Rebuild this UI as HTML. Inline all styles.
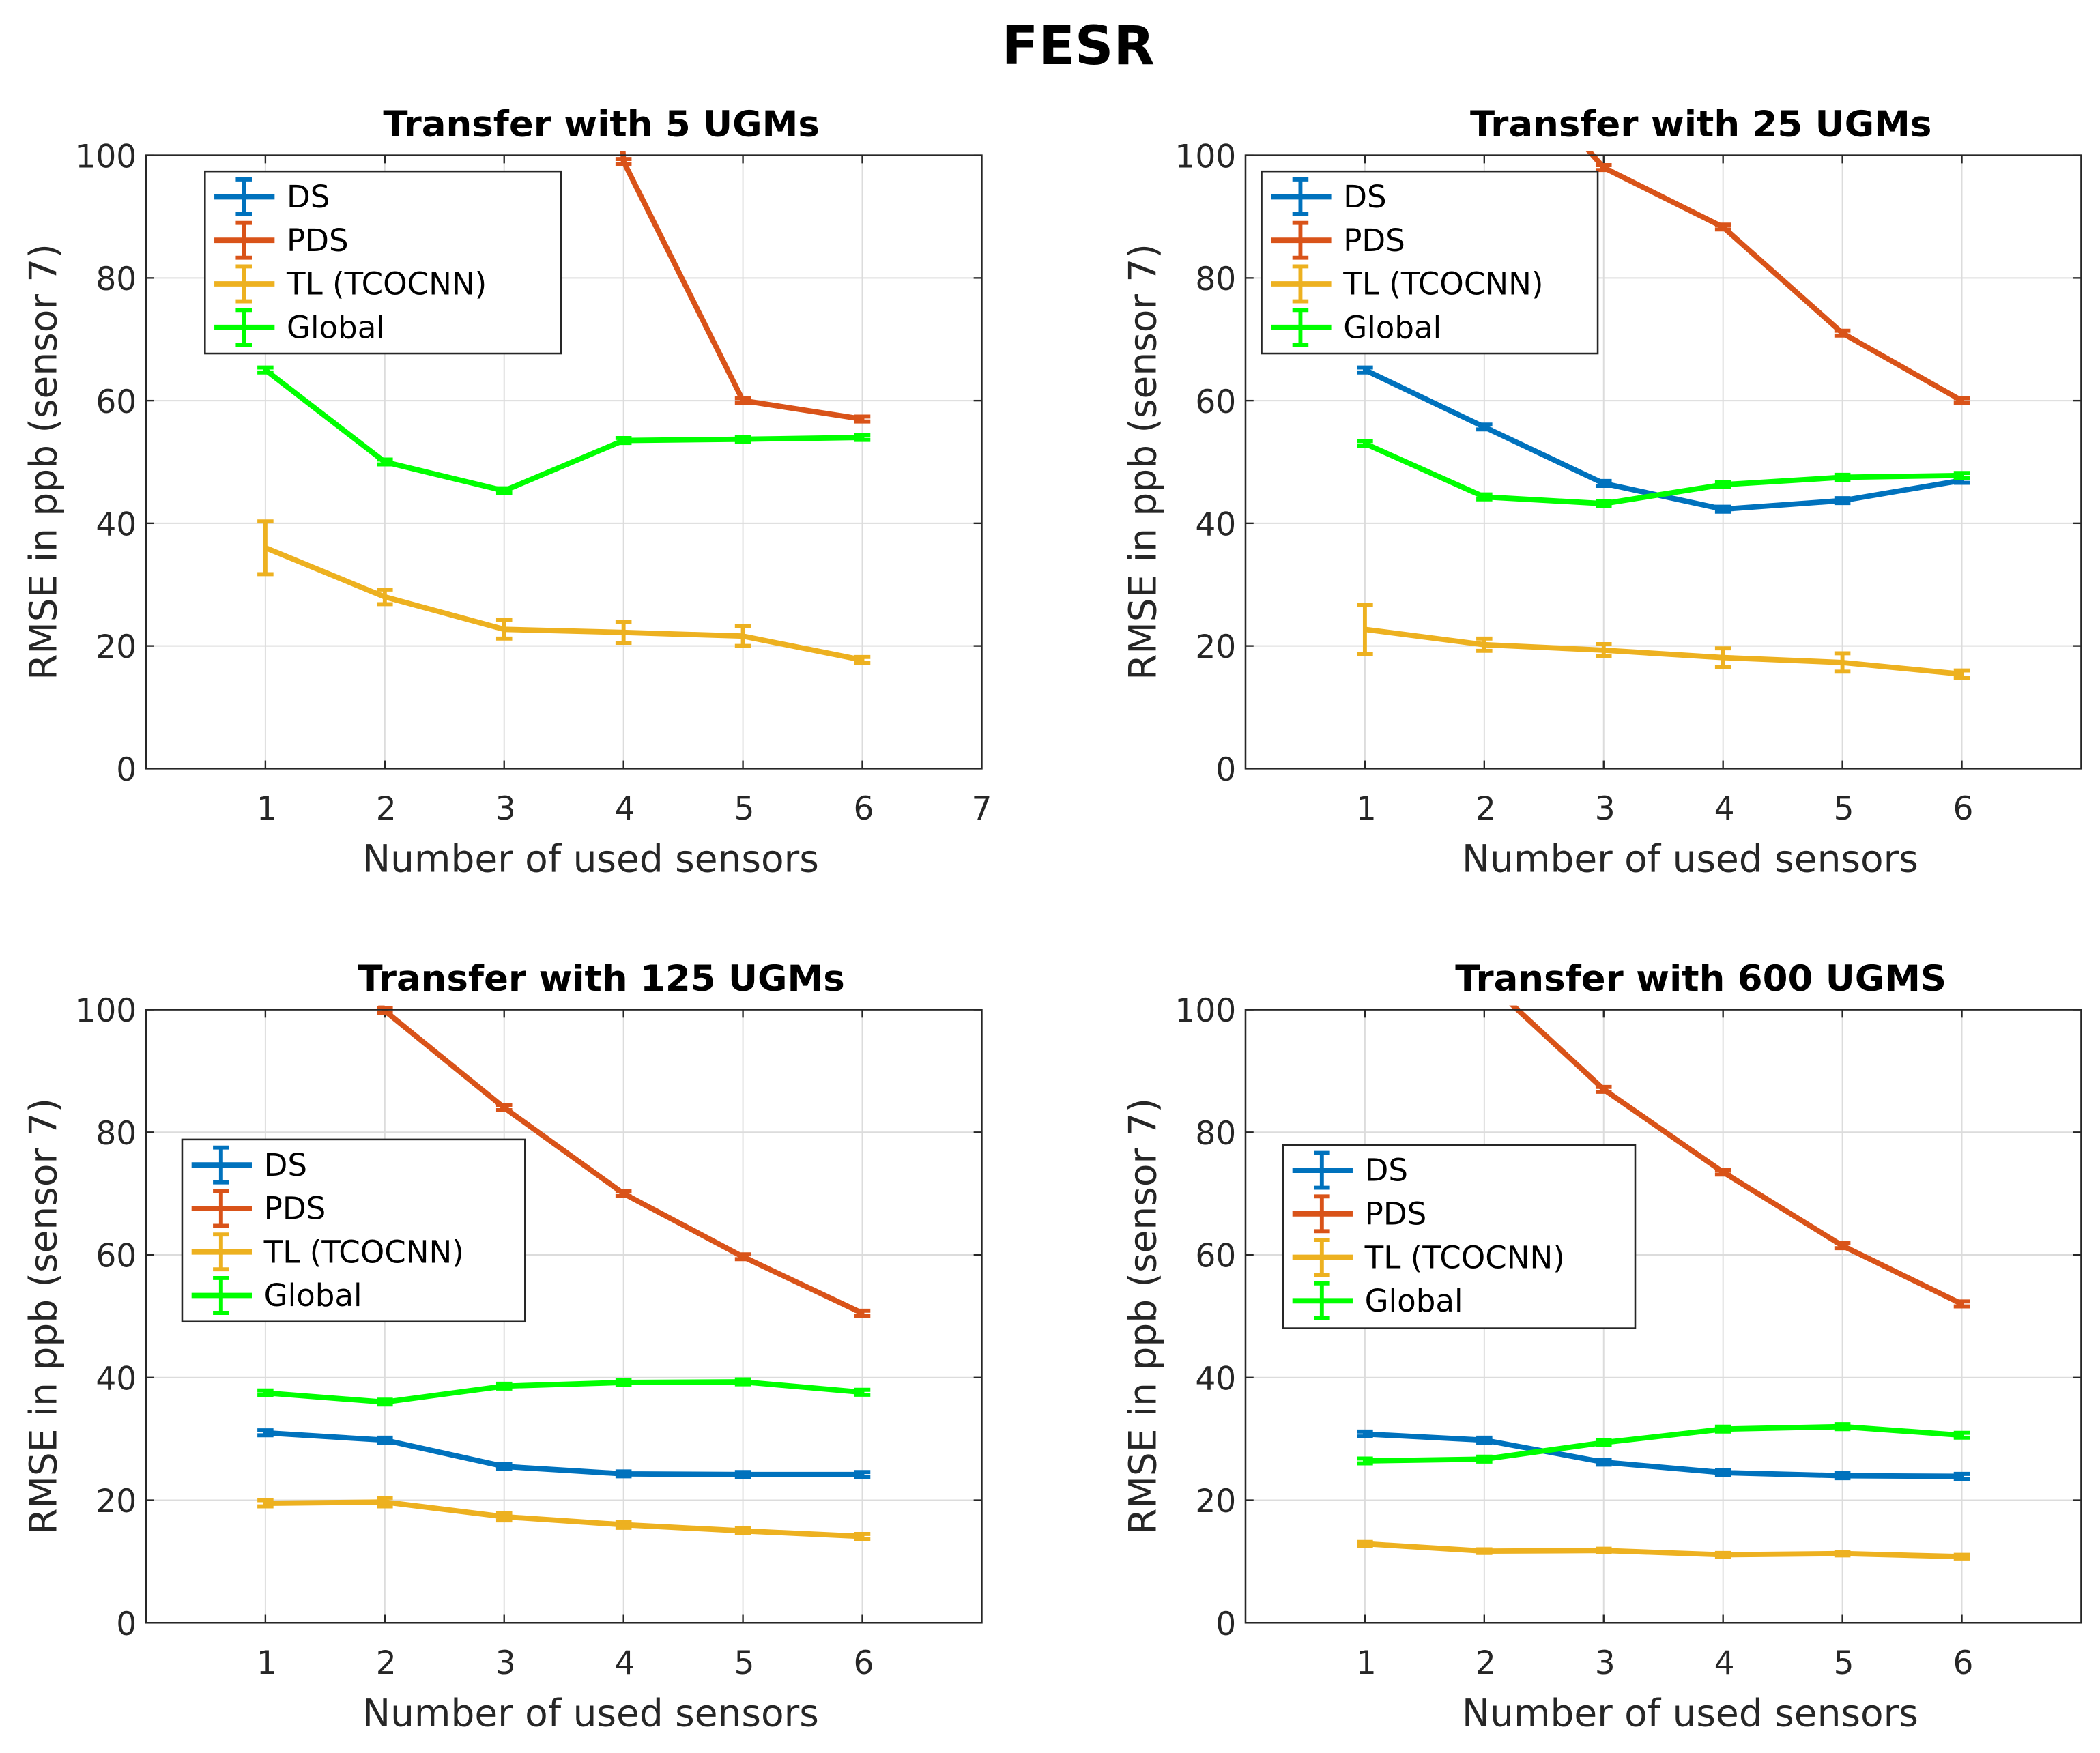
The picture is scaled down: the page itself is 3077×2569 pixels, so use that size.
<!DOCTYPE html>
<html><head><meta charset="utf-8"><style>
html,body{margin:0;padding:0;background:#fff}
svg{display:block}
text{font-family:"DejaVu Sans","Liberation Sans",sans-serif;fill:#262626}
</style></head><body>
<svg id="fig" width="3077" height="2569" viewBox="0 0 1568 1309.2" xmlns="http://www.w3.org/2000/svg">
<text x="805" y="48" text-anchor="middle" font-size="40" font-weight="bold" style="fill:#000">FESR</text>
</svg>
<script>
const xCats=[1,2,3,4,5,6];
const yTicks=[0,20,40,60,80,100];
const seriesNames=["DS","PDS","TL (TCOCNN)","Global"];
const seriesColors=["#0072BD","#D95319","#EDB120","#00FF00"];
const titles=["Transfer with 5 UGMs","Transfer with 25 UGMs","Transfer with 125 UGMs","Transfer with 600 UGMS"];
// panel values
const ds5=[null,null,null,null,null,null];
const pds5=[600,500,400,99,60,57];
const tl5=[36,28,22.7,22.2,21.6,17.7];
const tlErr5=[4.3,1.2,1.5,1.7,1.6,0.5];
const gl5=[65,50,45.3,53.5,53.7,54];
const ds25=[65,55.7,46.5,42.3,43.7,47];
const pds25=[150,120,98,88.3,71,60];
const tl25=[22.7,20.2,19.3,18.1,17.3,15.4];
const tlErr25=[4,1,1,1.5,1.5,0.6];
const gl25=[53,44.3,43.2,46.3,47.5,47.8];
const ds125=[31,29.8,25.5,24.3,24.2,24.2];
const pds125=[130,99.8,84,70,59.7,50.5];
const tl125=[19.5,19.7,17.3,16,15,14.1];
const tlErr125=[0.5,0.7,0.6,0.5,0.4,0.4];
const gl125=[37.5,36,38.6,39.2,39.3,37.6];
const ds600=[30.8,29.8,26.2,24.5,24,23.9];
const pds600=[125,105,87,73.5,61.5,52];
const tl600=[12.9,11.7,11.8,11.1,11.3,10.8];
const tlErr600=[0.3,0.3,0.3,0.3,0.3,0.3];
const gl600=[26.4,26.7,29.4,31.6,32,30.6];

const panels=[
 {L:109,T:116,ds:ds5,pds:pds5,tl:tl5,err:tlErr5,gl:gl5,show7:true,leg:[153,128,266,136]},
 {L:930,T:116,ds:ds25,pds:pds25,tl:tl25,err:tlErr25,gl:gl25,show7:false,leg:[942,128,251,136]},
 {L:109,T:754,ds:ds125,pds:pds125,tl:tl125,err:tlErr125,gl:gl125,show7:false,leg:[136,851,256,136]},
 {L:930,T:754,ds:ds600,pds:pds600,tl:tl600,err:tlErr600,gl:gl600,show7:false,leg:[958,855,263,137]}
];
const W=624,H=458;
const NS="http://www.w3.org/2000/svg";
const svg=document.getElementById('fig');
function mk(tag,attrs,parent){const e=document.createElementNS(NS,tag);for(const k in attrs)e.setAttribute(k,attrs[k]);(parent||svg).appendChild(e);return e;}
panels.forEach((p,i)=>{
 const xs=v=>p.L+v/7*W, ys=v=>p.T+H-v/100*H;
 const g=mk('g',{});
 
 
 const cp=mk('clipPath',{id:'c'+i},g);mk('rect',{x:p.L,y:p.T-3,width:W,height:H+3},cp);
 xCats.forEach(v=>{const l=mk('line',{x1:xs(v),x2:xs(v),y1:p.T,y2:p.T+H,stroke:'#dcdcdc','stroke-width':1},g);});
 yTicks.forEach(v=>{if(v>0&&v<100){const l=mk('line',{x1:p.L,x2:p.L+W,y1:ys(v),y2:ys(v),stroke:'#dcdcdc','stroke-width':1},g);}});
 xCats.forEach(v=>{mk('line',{x1:xs(v),x2:xs(v),y1:p.T+H,y2:p.T+H-6,stroke:'#262626','stroke-width':1.2},g);mk('line',{x1:xs(v),x2:xs(v),y1:p.T,y2:p.T+6,stroke:'#262626','stroke-width':1.2},g);
  const t=mk('text',{x:xs(v)+1,y:p.T+H+38,'text-anchor':'middle','font-size':24},g);t.textContent=v;});
 if(p.show7){const t=mk('text',{x:xs(7),y:p.T+H+38,'text-anchor':'middle','font-size':24},g);t.textContent='7';}
 yTicks.forEach(v=>{mk('line',{x1:p.L,x2:p.L+6,y1:ys(v),y2:ys(v),stroke:'#262626','stroke-width':1.2},g);mk('line',{x1:p.L+W,x2:p.L+W-6,y1:ys(v),y2:ys(v),stroke:'#262626','stroke-width':1.2},g);
  const t=mk('text',{x:p.L-7,y:ys(v)+9,'text-anchor':'end','font-size':24},g);t.textContent=v;});
 const sets=[[p.ds,null],[p.pds,null],[p.tl,p.err],[p.gl,null]];
 [0,1,2,3].forEach(si=>{
  const [vals,err]=sets[si];const col=seriesColors[si];
  const pts=[];vals.forEach((v,k)=>{if(v!=null)pts.push(xs(xCats[k])+','+ys(v));});
  if(!pts.length)return;
  const pl=mk('polyline',{points:pts.join(' '),fill:'none',stroke:col,'stroke-width':4,'stroke-linejoin':'round','clip-path':'url(#c'+i+')'},g);
  
  
  vals.forEach((v,k)=>{if(v==null)return;const e=err?err[k]:0.4;const x=xs(xCats[k]);
   const eb=mk('g',{stroke:col,'stroke-width':3,'clip-path':'url(#c'+i+')'},g);
   
   
   mk('line',{x1:x,x2:x,y1:ys(v-e),y2:ys(v+e)},eb);
   mk('line',{x1:x-6,x2:x+6,y1:ys(v-e),y2:ys(v-e)},eb);
   mk('line',{x1:x-6,x2:x+6,y1:ys(v+e),y2:ys(v+e)},eb);});
 });
 const b=mk('rect',{x:p.L,y:p.T,width:W,height:H,fill:'none',stroke:'#262626','stroke-width':1.3},g);
 
 const tt=mk('text',{x:p.L+W/2+28,y:p.T-14,'text-anchor':'middle','font-size':27,'font-weight':'bold',style:'fill:#000'},g);tt.textContent=titles[i];
 
 const xl=mk('text',{x:p.L+W/2+20,y:p.T+H+77,'text-anchor':'middle','font-size':28},g);xl.textContent='Number of used sensors';
 
 const yl=mk('text',{x:0,y:0,'text-anchor':'middle','font-size':28,transform:'translate('+(p.L-67)+','+(p.T+H/2)+') rotate(-90)'},g);yl.textContent='RMSE in ppb (sensor 7)';
 
 const [lx,ly,lw,lh]=p.leg;
 const lg=mk('g',{},g);
 
 mk('rect',{x:lx,y:ly,width:lw,height:lh,fill:'#fff',stroke:'#262626','stroke-width':1.3},lg);
 seriesNames.forEach((n,k)=>{const yy=ly+19+k*32.5;const col=seriesColors[k];
  const e=mk('g',{},lg);
  
  mk('line',{x1:lx+7,x2:lx+52,y1:yy,y2:yy,stroke:col,'stroke-width':4},e);
  mk('line',{x1:lx+29,x2:lx+29,y1:yy-13,y2:yy+13,stroke:col,'stroke-width':3},e);
  mk('line',{x1:lx+23,x2:lx+35,y1:yy-13,y2:yy-13,stroke:col,'stroke-width':3},e);
  mk('line',{x1:lx+23,x2:lx+35,y1:yy+13,y2:yy+13,stroke:col,'stroke-width':3},e);
  const t=mk('text',{x:lx+61,y:yy+8,'font-size':23,style:'fill:#000'},e);t.textContent=n;});
});
</script>
</body></html>
